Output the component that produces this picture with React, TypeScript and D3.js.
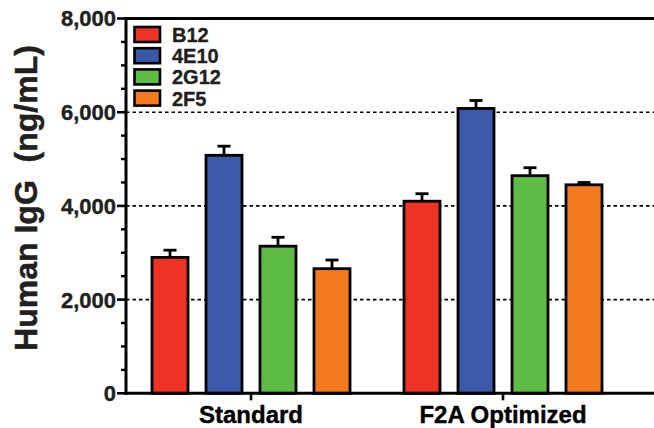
import React from 'react';
import * as d3 from 'd3';

const categories = ['Standard', 'F2A Optimized'];
const seriesNames = ['B12', '4E10', '2G12', '2F5'];
const seriesColors = ['#ee3224', '#3b59a8', '#5dbb46', '#f47a20'];
// values[series][category]
const meanValues = [
  [2900, 4100],
  [5080, 6080],
  [3140, 4645],
  [2660, 4450]
];
const errorValues = [
  [155, 160],
  [195, 170],
  [190, 170],
  [185, 50]
];
const yTicks = [0, 2000, 4000, 6000, 8000];
const gridTicks = [2000, 4000, 6000];

const W = 654;
const H = 428;
const font = '"Liberation Sans", Arial, sans-serif';
const ink = '#231f20';

const App = () => {
  const left = 126;
  const right = 654;
  const top = 18.5;
  const bottom = 393.3;

  const y = d3.scaleLinear().domain([0, 8000]).range([bottom, top]);
  const x = d3.scaleBand<string>().domain(categories).range([125, 629]);
  const inner = d3
    .scaleBand<string>()
    .domain(seriesNames)
    .range([-108, 108])
    .paddingInner(1 / 3)
    .paddingOuter(1 / 6);

  const minorTicks = d3.range(0, 8001, 500).filter(v => v % 2000 !== 0);
  const fmt = d3.format(',');

  return (
    <svg width={W} height={H} style={{ position: 'absolute', left: 0, top: 0 }}>
      <rect width={W} height={H} fill="#fff" />

      {/* dotted gridlines */}
      {gridTicks.map(t => (
        <line key={'g' + t} x1={left} x2={right} y1={y(t)} y2={y(t)}
          stroke="#000" strokeWidth={1.6} strokeDasharray="3.5,3" />
      ))}

      {/* bars */}
      {seriesNames.map((s, si) =>
        categories.map((c, ci) => {
          const bx = (x(c) as number) + x.bandwidth() / 2 + (inner(s) as number);
          const bw = inner.bandwidth();
          const v = meanValues[si][ci];
          const e = errorValues[si][ci];
          const cx = bx + bw / 2;
          return (
            <g key={s + c}>
              <line x1={cx} x2={cx} y1={y(v)} y2={y(v + e)} stroke="#000" strokeWidth={2.8} />
              <line x1={cx - 6.5} x2={cx + 6.5} y1={y(v + e)} y2={y(v + e)} stroke="#000" strokeWidth={2.8} />
              <rect x={bx} y={y(v)} width={bw} height={y(0) - y(v)}
                fill={seriesColors[si]} stroke="#000" strokeWidth={2.8} />
            </g>
          );
        })
      )}

      {/* axes */}
      <line x1={left} x2={left} y1={top - 1.5} y2={bottom + 1.5} stroke="#000" strokeWidth={3} />
      <line x1={left - 1.5} x2={right} y1={bottom} y2={bottom} stroke="#000" strokeWidth={3} />
      <line x1={left - 1.5} x2={right} y1={top} y2={top} stroke="#000" strokeWidth={3} />

      {yTicks.map(t => (
        <g key={'t' + t}>
          <line x1={left - 9} x2={left} y1={y(t)} y2={y(t)} stroke="#000" strokeWidth={2.6} />
          <text x={left - 10} y={y(t)} dy="0.36em" textAnchor="end"
            fontFamily={font} fontWeight="bold" fontSize={22} fill={ink}
            stroke={ink} strokeWidth={0.4}>
            {fmt(t)}
          </text>
        </g>
      ))}
      {minorTicks.map(t => (
        <line key={'m' + t} x1={left - 5} x2={left} y1={y(t)} y2={y(t)} stroke="#000" strokeWidth={2.4} />
      ))}

      {categories.map(c => {
        const cx = (x(c) as number) + x.bandwidth() / 2;
        return (
          <g key={c}>
            <line x1={cx} x2={cx} y1={bottom} y2={bottom + 7} stroke="#000" strokeWidth={2.6} />
            <text x={cx} y={423} textAnchor="middle" fontFamily={font} fontWeight="bold"
              fontSize={24} fill="#000" stroke="#000" strokeWidth={0.4}>
              {c}
            </text>
          </g>
        );
      })}

      <text transform={`translate(37,198) rotate(-90)`} textAnchor="middle"
        fontFamily={font} fontWeight="bold" fontSize={32} fill={ink}
        stroke={ink} strokeWidth={0.5} xmlSpace="preserve">
        {'Human IgG  (ng/mL)'}
      </text>

      {/* legend */}
      {seriesNames.map((s, i) => (
        <g key={'l' + s} transform={`translate(134.5,${27 + i * 21.2})`}>
          <rect x={0} y={0} width={25.5} height={15} fill={seriesColors[i]} stroke="#000" strokeWidth={2.6} />
          <text x={37.5} y={15} fontFamily={font} fontWeight="bold" fontSize={20} fill={ink}
            stroke={ink} strokeWidth={0.35}>
            {s}
          </text>
        </g>
      ))}
    </svg>
  );
};

export default App;
